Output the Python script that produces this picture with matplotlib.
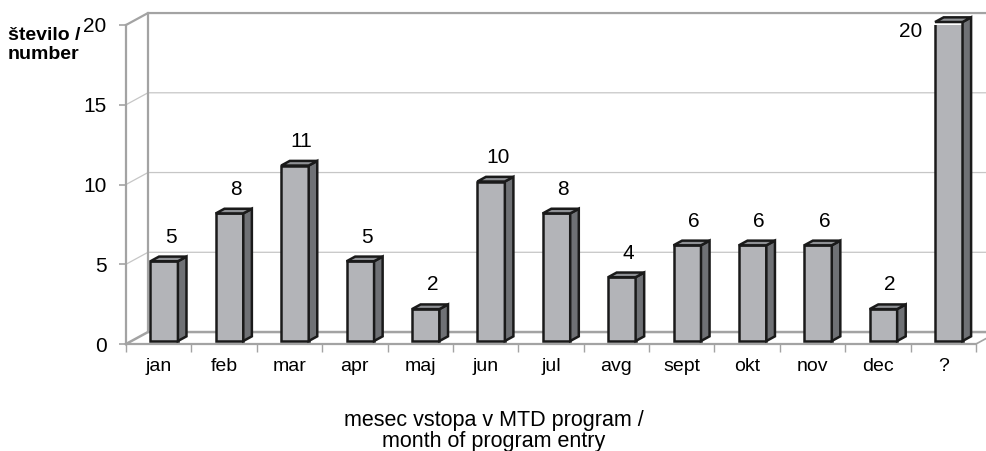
import matplotlib.pyplot as plt
from matplotlib.patches import Polygon

plt.rcParams['font.family'] = ['Liberation Sans', 'DejaVu Sans']

# data
months = ['jan', 'feb', 'mar', 'apr', 'maj', 'jun', 'jul', 'avg',
          'sept', 'okt', 'nov', 'dec', '?']
counts = [5, 8, 11, 5, 2, 10, 8, 4, 6, 6, 6, 2, 20]
yticks = [0, 5, 10, 15, 20]

# look of the excel 3d box
DX, DY = 0.336, 0.75       # depth of the box, in data units
f0, f1 = 0.25, 0.64        # where the bars sit in depth
bw = 0.42
face, side, top = '#b3b4b8', '#6f7175', '#8f9195'
wall = '#a3a3a3'
grid = '#c6c6c6'

fig = plt.figure(figsize=(9.87, 4.51), dpi=100)
ax = fig.add_axes([126/987, 107/451, 850/987, 319/451])
ax.set_xlim(0, len(months))
ax.set_ylim(0, 20)
ax.patch.set_visible(False)

for s in ['top', 'right']:
    ax.spines[s].set_visible(False)
for s in ['left', 'bottom']:
    ax.spines[s].set_color(wall)
    ax.spines[s].set_linewidth(1.6)

xend = len(months) + DX
# gridlines on back wall + left wall
for v in yticks[1:-1]:
    ax.plot([0, DX, xend], [v, v + DY, v + DY], color=grid, lw=0.9,
            clip_on=False, zorder=0)
# top edge of wall, floor back edge, wall corner
ax.plot([0, DX, xend], [20, 20 + DY, 20 + DY], color=wall, lw=1.6,
        clip_on=False, zorder=0)
ax.plot([0, DX, xend], [0, DY, DY], color=wall, lw=1.8, clip_on=False, zorder=0)
ax.plot([DX, DX], [DY, 20 + DY], color=wall, lw=1.6, clip_on=False, zorder=0)
ax.plot([len(months), xend], [0, DY], color=wall, lw=1.2, clip_on=False, zorder=0)

# bars
x = [i + 0.5 for i in range(len(months))]
xf = [c + f0 * DX for c in x]
b0 = f0 * DY
ax.bar(xf, counts, width=bw, bottom=b0, color=face, edgecolor='#1a1a1a',
       lw=1.8, zorder=3)
ddx, ddy = (f1 - f0) * DX, (f1 - f0) * DY
for c, v in zip(xf, counts):
    xl, xr, t = c - bw / 2, c + bw / 2, v + b0
    ax.add_patch(Polygon([(xr, b0), (xr + ddx, b0 + ddy), (xr + ddx, t + ddy), (xr, t)],
                         closed=True, fc=side, ec='#1a1a1a', lw=1.8, zorder=3,
                         clip_on=False))
    ax.add_patch(Polygon([(xl, t), (xl + ddx, t + ddy), (xr + ddx, t + ddy), (xr, t)],
                         closed=True, fc=top, ec='#1a1a1a', lw=1.8, zorder=3,
                         clip_on=False))
    if v + 1.7 < 20:
        ax.text(c + 0.1, v + 1.7, str(v), ha='center', va='center', fontsize=15)
    else:
        ax.text(xl - 0.2, v - 0.4, str(v), ha='right', va='center', fontsize=15)

ax.set_yticks(yticks)
ax.tick_params(axis='y', length=5, width=1.2, color=wall, pad=9, labelsize=15)
ax.set_xticks(x)
ax.set_xticklabels(months)
ax.set_xticks(range(len(months) + 1), minor=True)
ax.tick_params(axis='x', which='major', length=0, pad=10, labelsize=14)
ax.tick_params(axis='x', which='minor', length=6, width=1.0, color=wall)

fig.text(8/987, 1 - 45/451, 'število /\nnumber', ha='left', va='center',
         fontsize=14, fontweight='bold', linespacing=1.1)
fig.text(0.5, 1 - 431/451, 'mesec vstopa v MTD program /\nmonth of program entry',
         ha='center', va='center', fontsize=15.5, linespacing=0.95)

fig.savefig('out.png', dpi=100)
